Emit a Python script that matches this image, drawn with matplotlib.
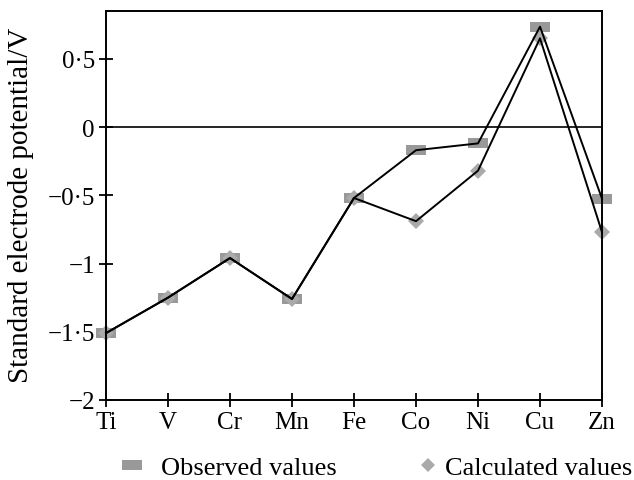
import matplotlib
matplotlib.use("Agg")
import matplotlib.pyplot as plt
from matplotlib.path import Path
from matplotlib.lines import Line2D

elements = ["Ti", "V", "Cr", "Mn", "Fe", "Co", "Ni", "Cu", "Zn"]
observed = [-1.51, -1.25, -0.96, -1.26, -0.52, -0.17, -0.12, 0.735, -0.525]
calculated = [-1.51, -1.25, -0.96, -1.26, -0.52, -0.69, -0.32, 0.65, -0.77]
yticks = [0.5, 0, -0.5, -1, -1.5, -2]
yticklabels = ["0\u00b75", "0", "\u22120\u00b75", "\u22121", "\u22121\u00b75", "\u22122"]

plt.rcParams['font.family'] = ['Liberation Serif', 'DejaVu Serif']


def rect_path(aspect):
    return Path([(-1, -aspect), (1, -aspect), (1, aspect), (-1, aspect), (-1, -aspect)],
                [Path.MOVETO, Path.LINETO, Path.LINETO, Path.LINETO, Path.CLOSEPOLY])


fig = plt.figure(figsize=(6.34, 4.81), dpi=100)
ax = fig.add_axes([106/634, 1-401/481, (602-106)/634, (401-12)/481])

x = list(range(len(elements)))
ax.plot(x, observed, linestyle='none', marker=rect_path(0.56), markersize=14,
        color='#999999', markeredgewidth=0, zorder=2, clip_on=False)
ax.plot(x, calculated, linestyle='none', marker='D', markersize=8,
        color='#aaaaaa', markeredgewidth=0, zorder=2, clip_on=False)
ax.plot(x, observed, color='black', lw=1.4, zorder=3, clip_on=False)
ax.plot(x, calculated, color='black', lw=1.4, zorder=3, clip_on=False)
ax.axhline(0, color='black', lw=1.2, zorder=1)

ax.set_xlim(0, 8)
ax.set_ylim(-2, 0.85)
ax.set_xticks(x)
ax.set_xticklabels(elements, fontsize=18)
ax.set_yticks(yticks)
ax.set_yticklabels(yticklabels, fontsize=18)
ax.tick_params(direction='inout', length=10, width=1.3, pad=3)
for s in ax.spines.values():
    s.set_linewidth(1.4)
ax.set_ylabel("Standard electrode potential/V", fontsize=21)
ax.yaxis.set_label_coords(-(106-34)/496, (401-205)/389)

h1 = Line2D([], [], linestyle='none', marker=rect_path(0.45), markersize=15,
            color='#999999', markeredgewidth=0)
h2 = Line2D([], [], linestyle='none', marker='D', markersize=7,
            color='#aaaaaa', markeredgewidth=0)
ly = 1 - 468/481
fig.legend([h1], ["Observed values"], loc='center left',
           bbox_to_anchor=(117/634, ly), frameon=False, fontsize=19,
           borderpad=0, borderaxespad=0, handlelength=1.1, handletextpad=0.55)
fig.legend([h2], ["Calculated values"], loc='center left',
           bbox_to_anchor=(417.5/634, ly), frameon=False, fontsize=19,
           borderpad=0, borderaxespad=0, handlelength=0.8, handletextpad=0.25)

fig.savefig("out.png", dpi=100)
